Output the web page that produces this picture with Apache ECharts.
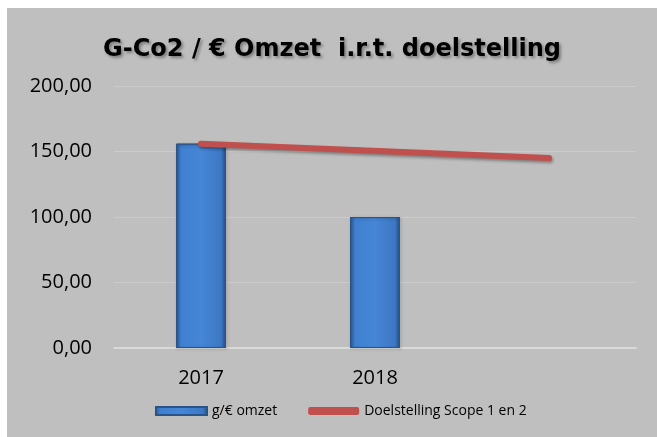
<!DOCTYPE html>
<html lang="nl">
<head>
    <meta charset="UTF-8">
    <title>G-Co2 / € Omzet</title>
    <script src="https://cdn.jsdelivr.net/npm/echarts@6/dist/echarts.min.js"></script>
    <style>
        body { margin: 0; background: #fff; }
        #chart { position: absolute; left: 7px; top: 8px; width: 650px; height: 429px; }
    </style>
</head>
<body>
    <div id="chart"></div>
    <script>
        // data
        const categories = ['2017', '2018', ''];
        const omzet = [156, 100, null];
        const doelstelling = [156, null, 145];

        const fmt = v => v.toFixed(2).replace('.', ',');

        const chart = echarts.init(document.getElementById('chart'));

        const option = {
            backgroundColor: '#BFBFBF',
            textStyle: { fontFamily: 'Open Sans' },
            title: {
                text: 'G-Co2 / € Omzet  i.r.t. doelstelling',
                left: 'center',
                top: 25,
                textStyle: {
                    fontSize: 24,
                    fontWeight: 'bold',
                    color: '#000',
                    fontFamily: 'DejaVu Sans',
                    textShadowColor: 'rgba(0,0,0,0.35)',
                    textShadowBlur: 3,
                    textShadowOffsetX: 2,
                    textShadowOffsetY: 2
                }
            },
            legend: {
                bottom: 14,
                left: 143,
                itemGap: 31,
                itemWidth: 51,
                itemHeight: 8,
                textStyle: { fontSize: 14, color: '#000' },
                data: [
                    { name: 'g/€ omzet', icon: 'rect' },
                    { name: 'Doelstelling Scope 1 en 2', icon: 'roundRect' }
                ]
            },
            grid: { left: 107, right: 21, top: 78, bottom: 89 },
            xAxis: {
                type: 'category',
                data: categories,
                axisLine: { lineStyle: { color: '#D9D9D9', width: 2 } },
                axisTick: { show: false },
                axisLabel: { fontSize: 20, color: '#000', margin: 20 }
            },
            yAxis: {
                type: 'value',
                min: 0,
                max: 200,
                interval: 50,
                axisLine: { show: false },
                axisTick: { show: false },
                axisLabel: { fontSize: 20, color: '#000', margin: 22, formatter: fmt },
                splitLine: { lineStyle: { color: '#CBCBCB', width: 1 } }
            },
            series: [
                {
                    name: 'g/€ omzet',
                    type: 'bar',
                    data: omzet,
                    barWidth: 50,
                    itemStyle: {
                        color: new echarts.graphic.LinearGradient(0, 0, 1, 0, [
                            { offset: 0, color: '#2B5A96' },
                            { offset: 0.1, color: '#4080D0' },
                            { offset: 0.5, color: '#4686D6' },
                            { offset: 0.9, color: '#3C78C4' },
                            { offset: 1, color: '#244E84' }
                        ]),
                        borderColor: '#2A5488',
                        borderWidth: 1,
                        shadowColor: 'rgba(0,0,0,0.3)',
                        shadowBlur: 3,
                        shadowOffsetX: 1,
                        shadowOffsetY: 1
                    }
                },
                {
                    name: 'Doelstelling Scope 1 en 2',
                    type: 'line',
                    data: doelstelling,
                    connectNulls: true,
                    symbol: 'none',
                    lineStyle: {
                        color: '#C0504D',
                        width: 6,
                        cap: 'round',
                        shadowColor: 'rgba(0,0,0,0.35)',
                        shadowBlur: 3,
                        shadowOffsetX: 1,
                        shadowOffsetY: 2
                    },
                    itemStyle: { color: '#C0504D' }
                }
            ]
        };

        chart.setOption(option);
    </script>
</body>
</html>
